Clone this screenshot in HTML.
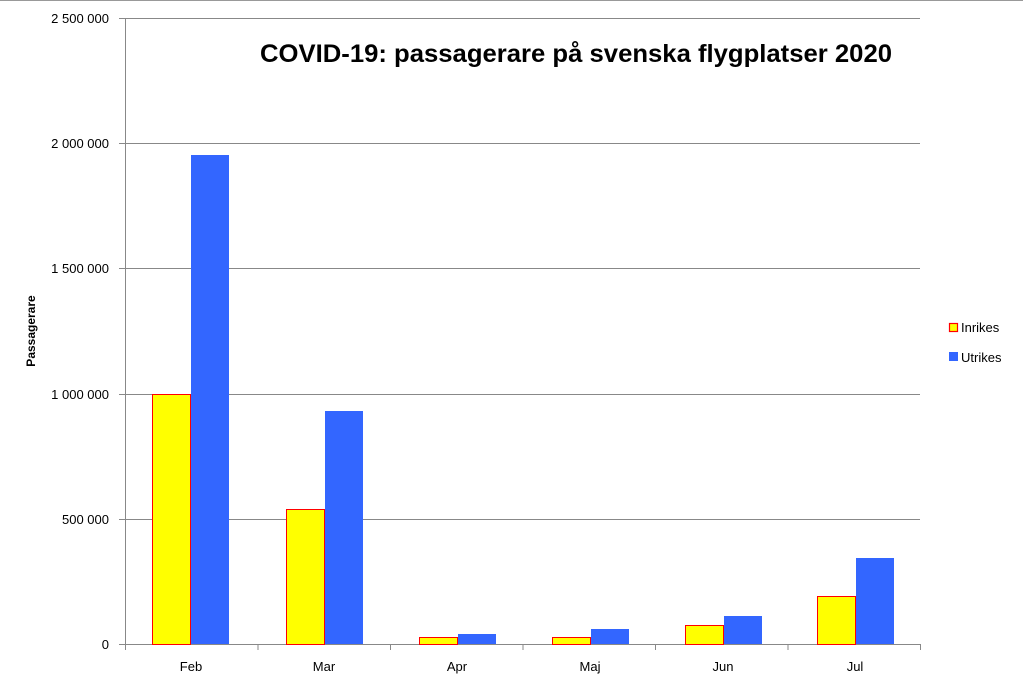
<!DOCTYPE html>
<html><head><meta charset="utf-8"><style>
html,body{margin:0;padding:0;background:#fff;}
svg{display:block;font-family:"Liberation Sans",Arial,sans-serif;}
</style></head><body>
<svg width="1023" height="685" viewBox="0 0 1023 685">
<line x1="0" y1="0.5" x2="1023" y2="0.5" stroke="#999" stroke-width="1"/>
<g stroke="#888" stroke-width="1">
<line x1="119" y1="18.5" x2="920" y2="18.5"/>
<line x1="119" y1="143.5" x2="920" y2="143.5"/>
<line x1="119" y1="268.5" x2="920" y2="268.5"/>
<line x1="119" y1="394.5" x2="920" y2="394.5"/>
<line x1="119" y1="519.5" x2="920" y2="519.5"/>
<line x1="119" y1="644.5" x2="920" y2="644.5"/>
<line x1="125.5" y1="18" x2="125.5" y2="650"/>
<line x1="258" y1="644" x2="258" y2="650"/>
<line x1="390.5" y1="644" x2="390.5" y2="650"/>
<line x1="523" y1="644" x2="523" y2="650"/>
<line x1="655.5" y1="644" x2="655.5" y2="650"/>
<line x1="788" y1="644" x2="788" y2="650"/>
<line x1="920.5" y1="644" x2="920.5" y2="650"/>
</g>
<g font-size="13" fill="#000" text-anchor="end">
<text x="109" y="23">2 500 000</text>
<text x="109" y="148">2 000 000</text>
<text x="109" y="273">1 500 000</text>
<text x="109" y="399">1 000 000</text>
<text x="109" y="524">500 000</text>
<text x="109" y="649">0</text>
</g>
<text transform="translate(35,331) rotate(-90)" font-size="12" font-weight="bold" text-anchor="middle">Passagerare</text>
<g fill="#ffff00" stroke="#ff0000" stroke-width="1">
<rect x="152.5" y="394.5" width="38" height="250"/>
<rect x="286.5" y="509.5" width="38" height="135"/>
<rect x="419.5" y="637.5" width="38" height="7"/>
<rect x="552.5" y="637.5" width="38" height="7"/>
<rect x="685.5" y="625.5" width="38" height="19"/>
<rect x="817.5" y="596.5" width="38" height="48"/>
</g>
<g fill="#3366ff">
<rect x="191" y="155" width="38" height="489"/>
<rect x="325" y="411" width="38" height="233"/>
<rect x="458" y="634" width="38" height="10"/>
<rect x="591" y="629" width="38" height="15"/>
<rect x="724" y="616" width="38" height="28"/>
<rect x="856" y="558" width="38" height="86"/>
</g>
<g font-size="13" text-anchor="middle">
<text x="191" y="671">Feb</text>
<text x="324" y="671">Mar</text>
<text x="457" y="671">Apr</text>
<text x="590" y="671">Maj</text>
<text x="723" y="671">Jun</text>
<text x="855" y="671">Jul</text>
</g>
<text x="260" y="62" font-size="25" font-weight="bold" textLength="632" lengthAdjust="spacingAndGlyphs">COVID-19: passagerare på svenska flygplatser 2020</text>
<rect x="949.5" y="323.5" width="8" height="8" fill="#ffff00" stroke="#ff0000" stroke-width="1.2"/>
<text x="961" y="332" font-size="13">Inrikes</text>
<rect x="949" y="352" width="9" height="9" fill="#3366ff"/>
<text x="961" y="362" font-size="13">Utrikes</text>
</svg>
</body></html>
